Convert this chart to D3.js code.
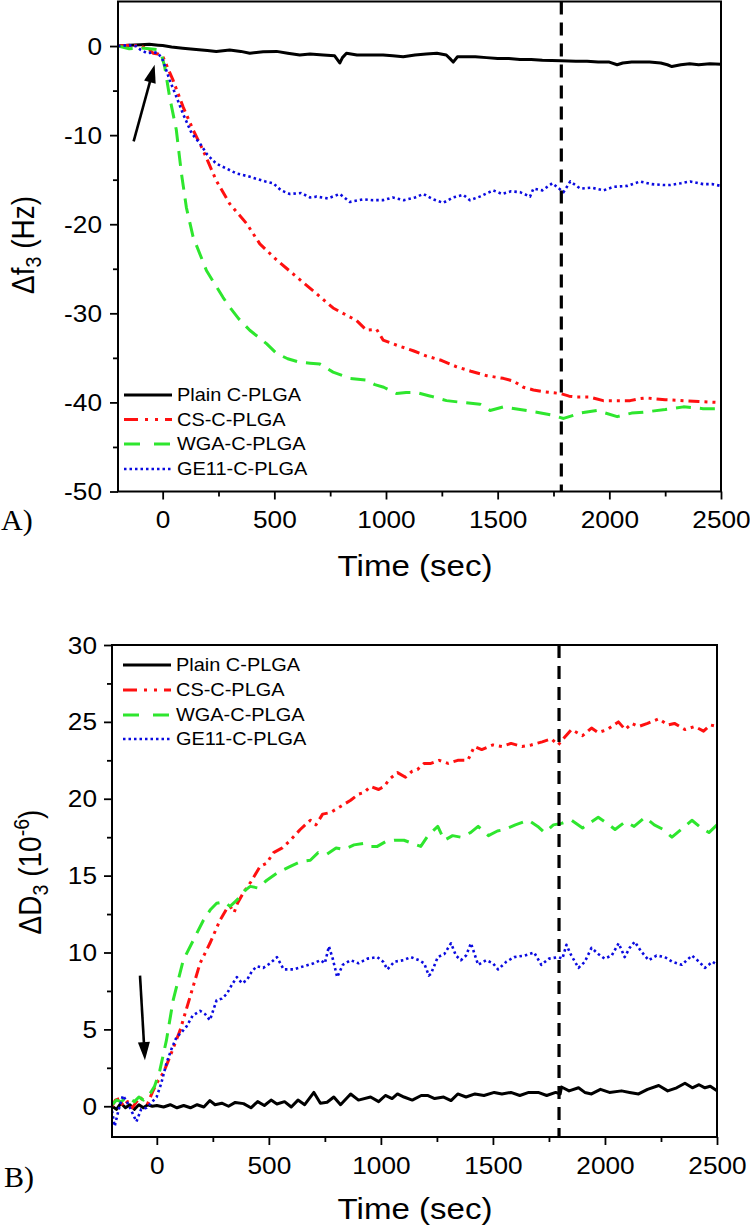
<!DOCTYPE html>
<html><head><meta charset="utf-8">
<script src="https://cdn.jsdelivr.net/npm/d3@7"></script>
<style>body{margin:0;background:#fff}svg{display:block}</style>
</head><body><svg id="c" width="750" height="1228"></svg>
<script>
// ---------- DATA ----------
const seriesNames = ["Plain C-PLGA", "CS-C-PLGA", "WGA-C-PLGA", "GE11-C-PLGA"];
const xTickValues = [0, 500, 1000, 1500, 2000, 2500];
const xMinorValues = [250, 750, 1250, 1750, 2250];
const yTicksA = [0, -10, -20, -30, -40, -50];
const yMinorA = [-5, -15, -25, -35, -45];
const yTicksB = [0, 5, 10, 15, 20, 25, 30];
const yMinorB = [2.5, 7.5, 12.5, 17.5, 22.5, 27.5];
const markerTimes = [1785, 1795]; // vertical dashed line (A, B)

// Panel A: Δf3 (Hz) vs time (s)
const plainF = [[-200,0],[-150,0.1],[-100,0.15],[-60,0.2],[-20,0.1],[0,0.05],[40,-0.1],[90,-0.25],[150,-0.4],[200,-0.5],[240,-0.6],[300,-0.45],[350,-0.6],[390,-0.8],[450,-0.65],[510,-0.6],[560,-0.8],[614,-1.0],[660,-0.9],[719,-1.0],[770,-1.1],[793,-1.9],[805,-1.3],[823,-0.8],[870,-1.0],[930,-1.0],[987,-1.0],[1030,-1.1],[1077,-1.2],[1130,-1.0],[1180,-0.9],[1228,-0.8],[1270,-1.0],[1290,-1.5],[1301,-1.8],[1320,-1.2],[1346,-1.2],[1400,-1.2],[1450,-1.3],[1500,-1.4],[1550,-1.4],[1600,-1.5],[1650,-1.5],[1700,-1.6],[1785,-1.65],[1850,-1.7],[1900,-1.7],[1950,-1.8],[2000,-1.8],[2035,-2.1],[2060,-1.9],[2100,-1.8],[2125,-1.8],[2180,-1.8],[2230,-1.9],[2260,-2.1],[2280,-2.3],[2320,-2.1],[2360,-2.0],[2400,-2.1],[2450,-2.0],[2500,-2.05]];
const csF = [[-200,0],[-150,0.1],[-100,0],[-60,-0.4],[-43,-0.8],[-20,-0.9],[1,-1.2],[46,-3.8],[91,-6.8],[136,-9.4],[181,-11.7],[240,-15.1],[300,-17.7],[375,-19.9],[435,-22.2],[510,-24.0],[599,-25.9],[689,-27.8],[763,-29.4],[800,-29.9],[868,-30.8],[913,-31.9],[958,-31.8],[987,-33.0],[1050,-33.6],[1122,-34.2],[1182,-34.8],[1250,-35.3],[1316,-36.0],[1380,-36.5],[1451,-37.0],[1525,-37.3],[1570,-37.6],[1615,-38.3],[1660,-38.6],[1705,-38.8],[1780,-39.0],[1820,-39.3],[1855,-39.4],[1910,-39.4],[1973,-39.8],[2030,-39.8],[2093,-39.8],[2130,-39.6],[2168,-39.5],[2250,-39.7],[2332,-39.8],[2400,-39.9],[2483,-40.0],[2500,-40.1]];
const wgaF = [[-200,0],[-150,-0.3],[-100,-0.2],[-60,-0.3],[-27,-0.4],[-5,-1.0],[9,-2.3],[31,-5.7],[61,-9.4],[84,-14.3],[106,-18.1],[136,-21.4],[196,-25.2],[270,-28.2],[300,-29.3],[340,-30.6],[390,-31.9],[430,-32.7],[465,-33.4],[510,-34.5],[560,-35.1],[614,-35.5],[660,-35.6],[704,-35.7],[763,-36.6],[838,-37.3],[913,-37.5],[950,-38.0],[990,-38.3],[1047,-39.0],[1090,-38.9],[1137,-38.9],[1200,-39.3],[1271,-39.8],[1340,-40.0],[1421,-40.2],[1466,-40.9],[1525,-40.5],[1600,-40.8],[1675,-41.1],[1740,-41.4],[1795,-41.8],[1870,-41.2],[1945,-40.9],[2035,-41.6],[2100,-41.2],[2152,-41.1],[2250,-40.8],[2332,-40.5],[2420,-40.7],[2500,-40.7]];
const ge11F = [[-200,0],[-150,0.1],[-120,0],[-100,-0.4],[-70,-0.8],[-40,-0.7],[-20,-0.8],[1,-1.6],[31,-3.8],[60,-5.6],[91,-7.6],[130,-9.8],[166,-10.9],[200,-12.2],[240,-13.2],[290,-13.8],[330,-14.3],[380,-14.6],[420,-14.9],[460,-15.2],[495,-15.4],[530,-16.2],[569,-16.6],[620,-16.5],[660,-17.0],[689,-16.9],[740,-17.1],[793,-16.6],[838,-17.5],[900,-17.2],[940,-17.3],[987,-17.3],[1030,-17.0],[1080,-17.3],[1130,-17.0],[1167,-16.6],[1210,-17.2],[1256,-17.6],[1300,-17.0],[1346,-16.7],[1376,-17.3],[1420,-16.9],[1480,-16.2],[1520,-16.6],[1560,-16.3],[1600,-16.4],[1645,-16.9],[1660,-16.0],[1700,-16.2],[1745,-15.4],[1795,-16.4],[1825,-15.2],[1870,-16.0],[1920,-15.9],[1973,-16.2],[2020,-15.8],[2080,-15.7],[2138,-15.2],[2190,-15.5],[2240,-15.6],[2272,-15.6],[2320,-15.4],[2362,-15.2],[2420,-15.5],[2460,-15.5],[2500,-15.7]];

// Panel B: ΔD3 (1e-6) vs time (s)
const plainD = [[-200,0.0],[-180,-0.2],[-160,0.2],[-140,-0.1],[-120,0.1],[-100,-0.2],[-80,0.1],[-60,-0.1],[-40,0.1],[-20,0.0],[0,0.05],[30,-0.05],[60,0.1],[90,-0.1],[120,0.05],[150,-0.1],[180,0.1],[210,-0.05],[237,0.37],[260,0.1],[290,0.2],[320,0.0],[350,0.25],[387,0.17],[420,-0.1],[450,0.3],[480,0.05],[510,0.4],[536,0.15],[570,0.3],[600,-0.05],[630,0.4],[660,0.1],[701,0.9],[730,0.2],[760,0.26],[790,0.6],[820,0.1],[865,0.8],[900,0.4],[954,0.6],[990,0.3],[1020,0.7],[1050,0.5],[1074,0.8],[1103,0.6],[1140,0.4],[1180,0.7],[1208,0.7],[1240,0.5],[1280,0.6],[1313,0.37],[1343,0.8],[1380,0.6],[1420,0.8],[1460,0.7],[1506,0.9],[1540,0.8],[1580,0.9],[1620,0.7],[1660,0.9],[1702,0.9],[1740,0.7],[1780,0.9],[1800,0.8],[1806,1.25],[1840,1.0],[1882,1.2],[1910,0.9],[1940,0.8],[1980,1.1],[2020,0.9],[2074,1.0],[2110,0.9],[2150,0.8],[2190,1.1],[2240,1.35],[2280,1.0],[2320,1.2],[2357,1.5],[2390,1.2],[2420,1.4],[2446,1.2],[2470,1.3],[2500,1.0]];
const csD = [[-200,0.0],[-185,0.4],[-166,0.5],[-150,0.0],[-130,0.3],[-110,-0.1],[-90,0.3],[-75,0.6],[-61,0.37],[-40,0.2],[-20,0.9],[-1,1.5],[30,2.2],[58,3.2],[103,4.9],[148,7.1],[193,9.3],[237,10.6],[282,12.1],[310,12.8],[327,13.0],[345,12.6],[360,13.2],[387,13.9],[420,14.6],[461,15.6],[490,15.8],[521,16.5],[560,16.8],[596,17.3],[640,18.0],[685,18.6],[710,18.3],[740,19.0],[775,19.1],[820,19.5],[865,19.9],[900,20.3],[924,20.4],[954,20.8],[990,20.6],[1014,20.8],[1040,21.3],[1074,21.7],[1110,21.4],[1140,21.8],[1163,21.9],[1193,22.3],[1223,22.3],[1260,22.5],[1300,22.3],[1343,22.5],[1388,22.5],[1417,23.4],[1450,23.2],[1500,23.5],[1540,23.4],[1581,23.6],[1630,23.4],[1671,23.5],[1720,23.7],[1761,23.9],[1791,23.5],[1820,24.0],[1851,24.5],[1900,24.1],[1940,24.6],[1970,24.3],[2010,24.5],[2060,25.0],[2090,24.5],[2120,24.9],[2150,24.7],[2190,24.9],[2240,25.2],[2280,24.8],[2310,24.9],[2357,24.5],[2400,24.7],[2440,24.4],[2470,24.8],[2500,24.7]];
const wgaD = [[-200,0.1],[-180,0.4],[-160,0.3],[-140,0.5],[-121,0.5],[-100,0.3],[-80,0.6],[-60,0.4],[-31,0.8],[-10,1.3],[13,2.3],[43,4.3],[73,6.9],[118,9.5],[163,10.8],[208,12.1],[240,12.8],[267,13.2],[300,13.3],[327,13.0],[357,13.4],[390,14.0],[417,14.3],[450,14.2],[491,14.7],[540,15.2],[596,15.6],[640,15.9],[685,16.0],[720,16.5],[760,16.4],[800,16.8],[835,16.7],[880,17.0],[924,17.1],[954,16.9],[984,16.9],[1020,17.2],[1059,17.3],[1103,17.3],[1140,17.1],[1178,16.9],[1210,17.6],[1254,18.2],[1283,17.3],[1320,17.6],[1357,17.5],[1400,17.8],[1434,18.2],[1480,17.6],[1520,17.9],[1552,18.0],[1600,18.3],[1658,18.6],[1700,18.2],[1730,17.8],[1770,18.3],[1806,18.4],[1851,18.6],[1900,18.1],[1940,18.5],[1970,18.8],[2010,18.4],[2045,18.0],[2090,18.5],[2130,18.2],[2179,18.8],[2220,18.3],[2260,18.0],[2299,17.5],[2340,18.0],[2388,18.6],[2430,18.1],[2464,17.8],[2500,18.3]];
const ge11D = [[-200,-0.3],[-188,-1.3],[-170,-0.2],[-151,0.7],[-130,0.2],[-110,-0.4],[-91,-1.0],[-70,-0.2],[-46,-0.1],[-20,0.3],[-1,0.6],[20,1.5],[43,2.8],[65,3.7],[88,4.5],[110,4.8],[133,5.2],[160,5.9],[193,6.2],[215,6.0],[237,5.6],[267,6.9],[290,7.0],[312,7.3],[335,7.9],[357,8.4],[380,8.0],[402,8.2],[425,8.8],[447,9.1],[475,9.0],[506,9.3],[536,9.7],[566,8.9],[610,8.9],[655,9.1],[700,9.3],[730,9.5],[750,9.3],[768,10.4],[785,9.6],[805,8.4],[830,9.2],[865,9.5],[900,9.3],[940,9.6],[984,9.7],[1010,9.4],[1029,8.9],[1060,9.4],[1100,9.5],[1134,9.7],[1170,9.5],[1193,9.3],[1214,8.5],[1223,8.6],[1254,9.7],[1283,9.9],[1313,10.6],[1335,9.8],[1357,9.5],[1380,9.8],[1402,10.6],[1434,9.2],[1470,9.5],[1500,9.3],[1523,8.9],[1560,9.4],[1595,9.7],[1640,9.8],[1684,10.0],[1716,9.2],[1750,9.6],[1792,9.7],[1810,9.6],[1828,10.5],[1850,9.8],[1882,9.0],[1910,9.4],[1940,10.3],[1970,9.9],[1998,9.6],[2030,9.8],[2061,10.6],[2088,9.7],[2110,10.3],[2133,10.7],[2160,10.1],[2195,9.5],[2230,9.8],[2267,9.7],[2300,9.4],[2343,9.2],[2388,9.8],[2420,9.4],[2446,9.0],[2480,9.4],[2500,9.2]];

// Injection arrows [tailT, tailV, tipT, tipV]
const arrowA = [-130, -10.7, -36, -2.1];
const arrowB = [-75, 8.5, -53, 3.0];

// ---------- STYLE ----------
const FONT = "'Liberation Sans', Arial, Helvetica, sans-serif";
const SX = 1.14;
const styles = [
  {color: "#000000", width: 3,   dash: null},
  {color: "#ff1010", width: 3,   dash: "11,5,3,5,3,5"},
  {color: "#2ee62e", width: 3,   dash: "15,9"},
  {color: "#0a0ae0", width: 2.6, dash: "2.5,3"}
];

const svg = d3.select("#c");
svg.append("rect").attr("width", 750).attr("height", 1228).attr("fill", "#fff");

function drawPanel(cfg) {
  const x = d3.scaleLinear().domain([-200, 2500]).range([cfg.left, cfg.right]);
  const y = d3.scaleLinear().domain(cfg.yDomain).range([cfg.bottom, cfg.top]);
  const g = svg.append("g");
  const clipId = "clip" + cfg.id;
  svg.append("defs").append("clipPath").attr("id", clipId)
    .append("rect").attr("x", cfg.left).attr("y", cfg.top)
    .attr("width", cfg.right - cfg.left).attr("height", cfg.bottom - cfg.top);

  // axes (ticks outward)
  const xAx = g.append("g").attr("transform", `translate(0,${cfg.bottom})`)
    .call(d3.axisBottom(x).tickValues(xTickValues).tickSize(8).tickSizeOuter(0).tickFormat(d => String(d)));
  g.append("g").attr("transform", `translate(0,${cfg.bottom})`)
    .call(d3.axisBottom(x).tickValues(xMinorValues).tickSize(5).tickSizeOuter(0).tickFormat(""));
  const yAx = g.append("g").attr("transform", `translate(${cfg.left},0)`)
    .call(d3.axisLeft(y).tickValues(cfg.yTicks).tickSize(8).tickSizeOuter(0).tickFormat(d => String(d)));
  g.append("g").attr("transform", `translate(${cfg.left},0)`)
    .call(d3.axisLeft(y).tickValues(cfg.yMinor).tickSize(5).tickSizeOuter(0).tickFormat(""));
  g.selectAll(".domain").remove();
  g.selectAll(".tick line").attr("stroke", "#000").attr("stroke-width", 1.8);
  xAx.selectAll(".tick text").attr("font-family", FONT).attr("font-size", 23).attr("fill", "#000")
    .attr("y", cfg.xLabelOff).attr("dy", "0.71em").attr("transform", `scale(${SX},1)`);
  yAx.selectAll(".tick text").attr("font-family", FONT).attr("font-size", 23).attr("fill", "#000")
    .attr("x", -cfg.yLabelOff / SX).attr("dy", "0.35em").attr("transform", `scale(${SX},1)`);

  // series
  const line = d3.line().x(d => x(d[0])).y(d => y(d[1]));
  const sg = g.append("g").attr("clip-path", `url(#${clipId})`);
  cfg.series.forEach((data, i) => {
    const s = styles[i];
    sg.append("path").datum(data).attr("d", line).attr("fill", "none")
      .attr("stroke", s.color).attr("stroke-width", s.width)
      .attr("stroke-dasharray", s.dash).attr("stroke-linejoin", "round");
  });

  // vertical dashed marker
  sg.append("line").attr("x1", x(cfg.marker)).attr("x2", x(cfg.marker))
    .attr("y1", cfg.top).attr("y2", cfg.bottom)
    .attr("stroke", "#000").attr("stroke-width", 3.2).attr("stroke-dasharray", "13,8");

  // frame
  g.append("rect").attr("x", cfg.left).attr("y", cfg.top)
    .attr("width", cfg.right - cfg.left).attr("height", cfg.bottom - cfg.top)
    .attr("fill", "none").attr("stroke", "#000").attr("stroke-width", 2);

  // arrow
  const [t1, v1, t2, v2] = cfg.arrow;
  const ax1 = x(t1), ay1 = y(v1), ax2 = x(t2), ay2 = y(v2);
  const L = Math.hypot(ax2 - ax1, ay2 - ay1), ux = (ax2 - ax1) / L, uy = (ay2 - ay1) / L;
  const hl = 18, hw = 6;
  const bx = ax2 - ux * hl, by = ay2 - uy * hl;
  g.append("line").attr("x1", ax1).attr("y1", ay1).attr("x2", bx + ux * 2).attr("y2", by + uy * 2)
    .attr("stroke", "#000").attr("stroke-width", 2.6);
  g.append("path").attr("d", `M${ax2},${ay2}L${bx - uy * hw},${by + ux * hw}L${bx + uy * hw},${by - ux * hw}Z`)
    .attr("fill", "#000");

  // legend
  const lg = g.append("g");
  seriesNames.forEach((name, i) => {
    const s = styles[i];
    const yy = cfg.legendY[i];
    lg.append("line").attr("x1", cfg.legendX).attr("x2", cfg.legendX + 48)
      .attr("y1", yy).attr("y2", yy).attr("stroke", s.color).attr("stroke-width", s.width)
      .attr("stroke-dasharray", i === 1 ? "14,7,3,7,3,7" : i === 2 ? "16,14" : s.dash);
    lg.append("text").attr("transform", `translate(${cfg.legendX + 53},${yy}) scale(${SX},1)`)
      .attr("dy", "0.36em").attr("font-family", FONT).attr("font-size", 17.5).attr("fill", "#000")
      .text(name);
  });

  // x title
  g.append("text").attr("transform", `translate(415,${cfg.xTitleY}) scale(${SX},1)`)
    .attr("text-anchor", "middle").attr("font-family", FONT).attr("font-size", 29).attr("fill", "#000")
    .text("Time (sec)");

  // y title
  const yt = g.append("text")
    .attr("transform", `translate(${cfg.yTitleX},${cfg.yTitleY}) scale(1.1,1) rotate(-90)`)
    .attr("text-anchor", "middle").attr("dy", "0.36em")
    .attr("font-family", FONT).attr("font-size", 28).attr("fill", "#000");
  cfg.yTitle(yt);

  // panel letter
  g.append("text").attr("x", cfg.letterX).attr("y", cfg.letterY)
    .attr("font-family", "'Liberation Serif', 'Times New Roman', serif").attr("font-size", 30)
    .attr("fill", "#000").text(cfg.letter);
}

drawPanel({
  id: "A", left: 118, right: 721, top: 1.5, bottom: 491.5, yDomain: [-50, 5],
  yTicks: yTicksA, yMinor: yMinorA, xLabelOff: 20, yLabelOff: 16,
  series: [plainF, csF, wgaF, ge11F], marker: markerTimes[0], arrow: arrowA,
  legendX: 124, legendY: [395, 419.5, 444, 469],
  xTitleY: 576, yTitleX: 23, yTitleY: 245,
  yTitle: t => {
    t.append("tspan").text("\u0394f");
    t.append("tspan").attr("font-size", "70%").attr("dy", "0.3em").text("3");
    t.append("tspan").attr("dy", "-0.21em").text(" (Hz)");
  },
  letter: "A)", letterX: 1, letterY: 530
});

drawPanel({
  id: "B", left: 112, right: 717, top: 645, bottom: 1137, yDomain: [-2, 30],
  yTicks: yTicksB, yMinor: yMinorB, xLabelOff: 21, yLabelOff: 15,
  series: [plainD, csD, wgaD, ge11D], marker: markerTimes[1], arrow: arrowB,
  legendX: 123, legendY: [665, 690, 715, 739],
  xTitleY: 1219, yTitleX: 30, yTitleY: 872,
  yTitle: t => {
    t.append("tspan").text("\u0394D");
    t.append("tspan").attr("font-size", "70%").attr("dy", "0.3em").text("3");
    t.append("tspan").attr("dy", "-0.21em").text(" (10");
    t.append("tspan").attr("font-size", "70%").attr("dy", "-0.55em").text("-6");
    t.append("tspan").attr("dy", "0.385em").text(")");
  },
  letter: "B)", letterX: 4, letterY: 1187
});
</script></body></html>
